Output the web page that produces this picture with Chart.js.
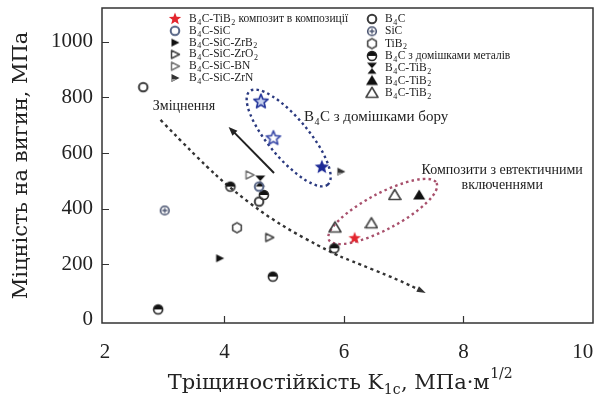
<!DOCTYPE html>
<html>
<head>
<meta charset="utf-8">
<script src="https://cdn.jsdelivr.net/npm/chart.js@4.4.0/dist/chart.umd.min.js"></script>
<style>
  html, body { margin: 0; padding: 0; background: #fff; }
  #wrap { width: 599px; height: 398px; }
</style>
</head>
<body>
<div id="wrap"><canvas id="chart" width="599" height="398"></canvas></div>
<script>
// axis ticks
const xTicks = [2, 4, 6, 8, 10];
const yTicks = [0, 200, 400, 600, 800, 1000];

// points as [K1c, strength]
const composite = [[6.18, 293]];
const b4cSiC = [[4.58, 479]];
const b4cSiCZrB2 = [[3.92, 221]];
const b4cSiCZrO2 = [[4.75, 296]];
const b4cSiCBN = [[4.42, 521]];
const b4cSiCZrN = [[5.95, 533]];
const b4c = [[2.64, 837], [4.58, 425]];
const sic = [[3.0, 393]];
const tib2 = [[4.21, 331]];
const b4cMetals = [[2.89, 37], [4.10, 479], [4.66, 449], [4.81, 155], [5.84, 257]];
const b4cTiB2Bow = [[4.6, 499]];
const b4cTiB2Solid = [[7.26, 449]];
const b4cTiB2Open = [[5.85, 332], [6.46, 347], [6.85, 449]];
const b4cBoron = [[4.61, 785], [4.82, 653], [5.63, 549]];

// annotation guides (data coords)
const trendCurve = [[2.93, 719], [3.58, 575], [4.13, 467], [4.87, 348], [5.8, 240], [6.08, 215], [6.92, 143], [7.37, 96]];
const trendArrow = [[4.83, 528], [4.07, 694]];
const boronEllipse = [[4.42, 822], [5.73, 486]];
const eutecticEllipse = [[5.75, 287], [7.55, 492]];

const serif = '"Liberation Serif", serif';
const serifWide = '"DejaVu Serif", serif';

function marker(size, draw) {
  const c = document.createElement('canvas');
  c.width = size; c.height = size;
  const g = c.getContext('2d');
  g.translate(size / 2, size / 2);
  g.lineJoin = 'round';
  draw(g);
  return c;
}
function starPath(g, R, r) {
  g.beginPath();
  for (let i = 0; i < 10; i++) {
    const a = -Math.PI / 2 + i * Math.PI / 5;
    const rr = i % 2 ? r : R;
    g.lineTo(Math.cos(a) * rr, Math.sin(a) * rr);
  }
  g.closePath();
}
function circle(g, r) { g.beginPath(); g.arc(0, 0, r, 0, Math.PI * 2); }
function rightTri(g) { g.beginPath(); g.moveTo(4.5, 0); g.lineTo(-3.5, -4); g.lineTo(-3.5, 4); g.closePath(); }
function upTri(g) { g.beginPath(); g.moveTo(0, -5.5); g.lineTo(6, 4.5); g.lineTo(-6, 4.5); g.closePath(); }

const mk = {
  redStar: marker(16, g => { starPath(g, 6.5, 2.8); g.fillStyle = '#e3262e'; g.fill(); }),
  sicCircle: marker(14, g => { circle(g, 4.3); g.lineWidth = 2; g.strokeStyle = '#566485'; g.stroke(); }),
  zrb2: marker(12, g => { rightTri(g); g.fillStyle = '#111'; g.fill(); }),
  zro2: marker(12, g => { rightTri(g); g.lineWidth = 1.5; g.strokeStyle = '#444'; g.stroke(); }),
  bn: marker(12, g => { rightTri(g); g.lineWidth = 1.5; g.strokeStyle = '#777'; g.stroke(); }),
  zrn: marker(12, g => { rightTri(g); g.fillStyle = '#333'; g.fill(); g.beginPath(); g.moveTo(-3.5, 1); g.lineTo(1.5, 1); g.lineTo(-3.5, 4); g.closePath(); g.fillStyle = '#999'; g.fill(); }),
  b4cCircle: marker(14, g => { circle(g, 4.3); g.lineWidth = 2; g.strokeStyle = '#3a3a3a'; g.stroke(); }),
  sicCross: marker(14, g => { circle(g, 4.3); g.lineWidth = 1.6; g.strokeStyle = '#4a5470'; g.stroke(); g.beginPath(); g.moveTo(-2.5, 0); g.lineTo(2.5, 0); g.moveTo(0, -2.5); g.lineTo(0, 2.5); g.lineWidth = 1.3; g.stroke(); }),
  hexagon: marker(14, g => { g.beginPath(); for (let i = 0; i < 6; i++) { const a = -Math.PI / 2 + i * Math.PI / 3; g.lineTo(Math.cos(a) * 5, Math.sin(a) * 5); } g.closePath(); g.lineWidth = 1.7; g.strokeStyle = '#555'; g.stroke(); }),
  halfCircle: marker(14, g => { g.beginPath(); g.arc(0, 0, 4.5, Math.PI, 0); g.closePath(); g.fillStyle = '#111'; g.fill(); circle(g, 4.5); g.lineWidth = 1.6; g.strokeStyle = '#222'; g.stroke(); }),
  bowtie: marker(14, g => { g.beginPath(); g.moveTo(-5, -5.5); g.lineTo(5, -5.5); g.lineTo(0, 0); g.closePath(); g.moveTo(0, 0); g.lineTo(4.5, 5.5); g.lineTo(-4.5, 5.5); g.closePath(); g.fillStyle = '#111'; g.fill(); }),
  solidTri: marker(14, g => { upTri(g); g.fillStyle = '#111'; g.fill(); }),
  openTri: marker(14, g => { upTri(g); g.lineWidth = 1.6; g.strokeStyle = '#444'; g.stroke(); }),
  blueStarOpen: marker(18, g => { starPath(g, 7.5, 3.3); g.fillStyle = '#c9d3f0'; g.fill(); g.lineWidth = 1.6; g.strokeStyle = '#23349a'; g.stroke(); }),
  blueStarWhite: marker(18, g => { starPath(g, 7.5, 3.3); g.fillStyle = '#fff'; g.fill(); g.lineWidth = 1.6; g.strokeStyle = '#3a4aa8'; g.stroke(); }),
  blueStarFill: marker(18, g => { starPath(g, 7.5, 3.3); g.fillStyle = '#1d2a96'; g.fill(); })
};

const pts = arr => arr.map(([x, y]) => ({x, y}));

// legend: label, marker, column, row
const datasets = [
  {label: 'B_{4}C-TiB_{2} композит в композиції', data: pts(composite), style: mk.redStar, col: 0, row: 0},
  {label: 'B_{4}C-SiC', data: pts(b4cSiC), style: mk.sicCircle, col: 0, row: 1},
  {label: 'B_{4}C-SiC-ZrB_{2}', data: pts(b4cSiCZrB2), style: mk.zrb2, col: 0, row: 2},
  {label: 'B_{4}C-SiC-ZrO_{2}', data: pts(b4cSiCZrO2), style: mk.zro2, col: 0, row: 3},
  {label: 'B_{4}C-SiC-BN', data: pts(b4cSiCBN), style: mk.bn, col: 0, row: 4},
  {label: 'B_{4}C-SiC-ZrN', data: pts(b4cSiCZrN), style: mk.zrn, col: 0, row: 5},
  {label: 'B_{4}C', data: pts(b4c), style: mk.b4cCircle, col: 1, row: 0},
  {label: 'SiC', data: pts(sic), style: mk.sicCross, col: 1, row: 1},
  {label: 'TiB_{2}', data: pts(tib2), style: mk.hexagon, col: 1, row: 2},
  {label: 'B_{4}C з домішками металів', data: pts(b4cMetals), style: mk.halfCircle, col: 1, row: 3},
  {label: 'B_{4}C-TiB_{2}', data: pts(b4cTiB2Bow), style: mk.bowtie, col: 1, row: 4},
  {label: 'B_{4}C-TiB_{2}', data: pts(b4cTiB2Solid), style: mk.solidTri, col: 1, row: 5},
  {label: 'B_{4}C-TiB_{2}', data: pts(b4cTiB2Open), style: mk.openTri, col: 1, row: 6},
  {label: 'B_{4}C з домішками бору', data: pts(b4cBoron), style: [mk.blueStarOpen, mk.blueStarWhite, mk.blueStarFill], col: -1, row: -1}
];

function drawRich(ctx, text, x, y, size, family, align) {
  const parts = [];
  const re = /([_^])\{([^}]*)\}/g;
  let last = 0, m;
  while ((m = re.exec(text))) {
    if (m.index > last) parts.push({t: text.slice(last, m.index), k: ''});
    parts.push({t: m[2], k: m[1]});
    last = re.lastIndex;
  }
  if (last < text.length) parts.push({t: text.slice(last), k: ''});
  const fontFor = p => (p.k ? Math.round(size * 0.66) : size) + 'px ' + family;
  let w = 0;
  parts.forEach(p => { ctx.font = fontFor(p); p.w = ctx.measureText(p.t).width; w += p.w; });
  let cx = align === 'center' ? x - w / 2 : align === 'right' ? x - w : x;
  ctx.textAlign = 'left';
  ctx.textBaseline = 'middle';
  parts.forEach(p => {
    ctx.font = fontFor(p);
    const dy = p.k === '_' ? size * 0.32 : p.k === '^' ? -size * 0.45 : 0;
    ctx.fillText(p.t, cx, y + dy);
    cx += p.w + 0.5;
  });
}

function px(chart, p) {
  return [chart.scales.x.getPixelForValue(p[0]), chart.scales.y.getPixelForValue(p[1])];
}

function arrowHead(ctx, from, to, len, wid) {
  const a = Math.atan2(to[1] - from[1], to[0] - from[0]);
  ctx.beginPath();
  ctx.moveTo(to[0], to[1]);
  ctx.lineTo(to[0] - len * Math.cos(a) + wid * Math.sin(a), to[1] - len * Math.sin(a) - wid * Math.cos(a));
  ctx.lineTo(to[0] - len * Math.cos(a) - wid * Math.sin(a), to[1] - len * Math.sin(a) + wid * Math.cos(a));
  ctx.closePath();
  ctx.fill();
}

function ellipse(ctx, chart, ends, halfMinor, color) {
  const a = px(chart, ends[0]), b = px(chart, ends[1]);
  const cx = (a[0] + b[0]) / 2, cy = (a[1] + b[1]) / 2;
  const rx = Math.hypot(b[0] - a[0], b[1] - a[1]) / 2;
  ctx.save();
  ctx.setLineDash([2.5, 3.2]);
  ctx.lineWidth = 2.4;
  ctx.strokeStyle = color;
  ctx.beginPath();
  ctx.ellipse(cx, cy, rx, halfMinor, Math.atan2(b[1] - a[1], b[0] - a[0]), 0, Math.PI * 2);
  ctx.stroke();
  ctx.restore();
}

const decor = {
  id: 'decor',
  beforeDatasetsDraw(chart) {
    const {ctx, chartArea: area, scales: {x, y}} = chart;
    ctx.save();
    ctx.strokeStyle = '#333';
    ctx.lineWidth = 1.5;
    ctx.strokeRect(area.left, area.top, area.right - area.left, area.bottom - area.top);
    ctx.beginPath();
    yTicks.filter(v => v > 0).forEach(v => {
      const py = Math.round(y.getPixelForValue(v)) + 0.5;
      ctx.moveTo(area.left, py); ctx.lineTo(area.left + 7, py);
    });
    xTicks.filter(v => v > 2 && v < 10).forEach(v => {
      const p = Math.round(x.getPixelForValue(v)) + 0.5;
      ctx.moveTo(p, area.bottom); ctx.lineTo(p, area.bottom - 7);
    });
    ctx.lineWidth = 1.2;
    ctx.stroke();

    // dotted trend curve
    const cp = trendCurve.map(p => px(chart, p));
    ctx.save();
    ctx.setLineDash([3, 3.5]);
    ctx.lineWidth = 2.4;
    ctx.strokeStyle = '#333';
    ctx.beginPath();
    ctx.moveTo(cp[0][0], cp[0][1]);
    for (let i = 1; i < cp.length - 1; i++) {
      const mx = (cp[i][0] + cp[i + 1][0]) / 2, my = (cp[i][1] + cp[i + 1][1]) / 2;
      ctx.quadraticCurveTo(cp[i][0], cp[i][1], mx, my);
    }
    const endP = cp[cp.length - 1];
    ctx.lineTo(endP[0] - 4, endP[1] - 2);
    ctx.stroke();
    ctx.restore();
    ctx.fillStyle = '#333';
    arrowHead(ctx, cp[cp.length - 2], endP, 9, 3);

    // solid arrow
    const a0 = px(chart, trendArrow[0]), a1 = px(chart, trendArrow[1]);
    ctx.strokeStyle = '#222';
    ctx.lineWidth = 2;
    ctx.beginPath();
    ctx.moveTo(a0[0], a0[1]);
    ctx.lineTo(a1[0] + 4, a1[1] + 4);
    ctx.stroke();
    ctx.fillStyle = '#222';
    arrowHead(ctx, a0, a1, 9, 3.5);

    ellipse(ctx, chart, boronEllipse, 20, '#2b3a80');
    ellipse(ctx, chart, eutecticEllipse, 18, '#a8506c');
    ctx.restore();
  },
  afterDraw(chart) {
    const {ctx, chartArea: area} = chart;
    ctx.save();
    ctx.fillStyle = '#222';

    // legend
    chart.data.datasets.forEach(ds => {
      if (ds.col < 0) return;
      const mx = ds.col === 0 ? 175 : 372;
      const my = ds.col === 0 ? 19 + ds.row * 11.8 : 19 + ds.row * 12.3;
      const img = ds.style;
      ctx.drawImage(img, mx - img.width / 2, my - img.height / 2);
      drawRich(ctx, ds.label, mx + (ds.col === 0 ? 14 : 13), my, 11.5, serif, 'left');
    });

    // annotations
    let p = px(chart, [2.8, 768]);
    drawRich(ctx, 'Зміцнення', p[0], p[1], 14, serif, 'left');
    p = px(chart, [5.33, 729]);
    drawRich(ctx, 'B_{4}C з домішками бору', p[0], p[1], 15, serif, 'left');
    p = px(chart, [8.65, 538]);
    drawRich(ctx, 'Композити з евтектичними', p[0], p[1], 14, serif, 'center');
    p = px(chart, [8.65, 483]);
    drawRich(ctx, 'включеннями', p[0], p[1], 14, serif, 'center');

    // axis titles
    drawRich(ctx, 'Тріщиностійкість K_{1c}, МПа·м^{1/2}', (area.left + area.right) / 2 - 8, 384, 21, serifWide, 'center');
    ctx.translate(22, (area.top + area.bottom) / 2);
    ctx.rotate(-Math.PI / 2);
    drawRich(ctx, 'Міцність на вигин, МПа', 0, 0, 21, serifWide, 'center');
    ctx.restore();
  }
};

new Chart(document.getElementById('chart'), {
  type: 'scatter',
  data: {
    datasets: datasets.map(d => ({
      label: d.label,
      data: d.data,
      pointStyle: d.style,
      pointRadius: 5,
      style: d.style,
      col: d.col,
      row: d.row
    }))
  },
  options: {
    responsive: false,
    animation: false,
    devicePixelRatio: 1,
    layout: {padding: {top: 8, right: 4, left: 0, bottom: 0}},
    plugins: {legend: {display: false}, tooltip: {enabled: false}},
    scales: {
      x: {
        type: 'linear',
        min: 1.95,
        max: 10.17,
        afterBuildTicks: axis => { axis.ticks = xTicks.map(v => ({value: v})); },
        afterFit: axis => { axis.height = 75; axis.paddingLeft = 0; axis.paddingRight = 0; },
        grid: {display: false, drawTicks: false},
        border: {display: false},
        ticks: {font: {family: serif, size: 21}, color: '#222', padding: 17, maxRotation: 0, callback: v => String(v)}
      },
      y: {
        type: 'linear',
        min: -12,
        max: 1122,
        afterBuildTicks: axis => { axis.ticks = yTicks.map(v => ({value: v})); },
        afterFit: axis => { axis.width = 102; axis.paddingTop = 0; axis.paddingBottom = 0; },
        grid: {display: false, drawTicks: false},
        border: {display: false},
        ticks: {font: {family: serif, size: 21}, color: '#222', padding: 9, callback: v => String(v)}
      }
    }
  },
  plugins: [decor]
});
</script>
</body>
</html>
